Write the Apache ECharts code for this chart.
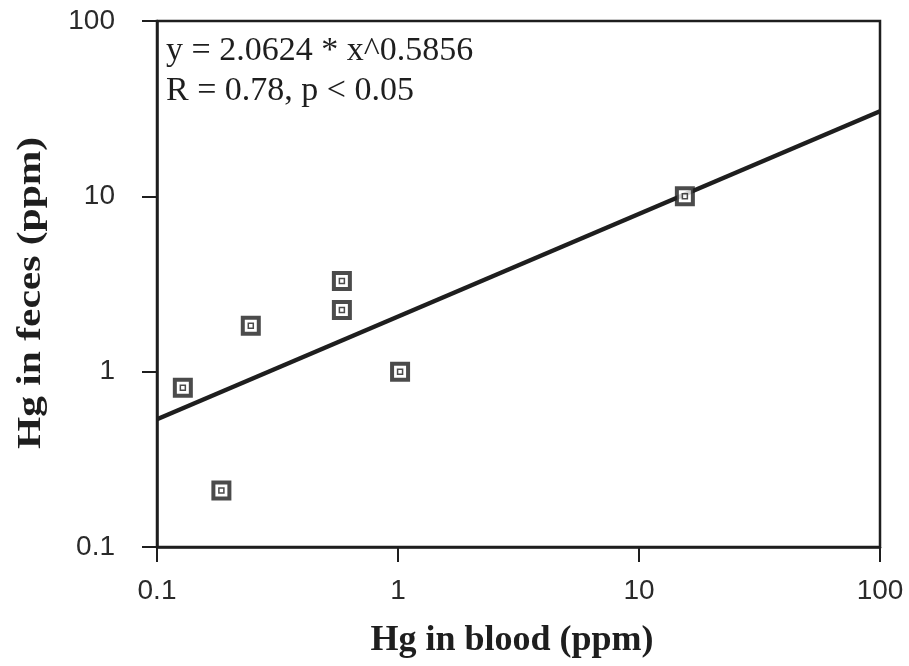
<!DOCTYPE html>
<html>
<head>
<meta charset="utf-8">
<script src="https://cdn.jsdelivr.net/npm/echarts@6/dist/echarts.min.js"></script>
<style>
  html, body { margin: 0; padding: 0; background: #fff; }
  #chart { width: 909px; height: 666px; }
</style>
</head>
<body>
<div id="chart"></div>
<script>
// Mercury in blood vs. mercury in feces, log-log scatter with power-law fit
const bloodHg = [0.128, 0.185, 0.245, 0.585, 0.585, 1.02, 15.5];
const fecesHg = [0.81, 0.21, 1.83, 3.29, 2.25, 1.0, 10.0];

// Power fit y = a * x^b, as printed on the chart
const fitA = 2.0624;
const fitB = 0.5856;
const fitRange = [0.1, 100];

const xTicks = [0.1, 1, 10, 100];
const yTicks = [0.1, 1, 10, 100];

const equationText = 'y = 2.0624 * x^0.5856';
const statsText = 'R = 0.78, p < 0.05';
const xTitle = 'Hg in blood (ppm)';
const yTitle = 'Hg in feces (ppm)';

const points = bloodHg.map((x, i) => [x, fecesHg[i]]);
const fitLine = fitRange.map(x => [x, fitA * Math.pow(x, fitB)]);

const ink = '#1e1e1e';
const serif = '"Liberation Serif", "DejaVu Serif", serif';
const sans = '"Liberation Sans", Arial, sans-serif';

const fmt = v => String(Number(v.toPrecision(3)));

const tickStyle = { show: true, inside: false, length: 15, lineStyle: { color: ink, width: 2 } };

const chart = echarts.init(document.getElementById('chart'), null, { renderer: 'canvas' });
chart.setOption({
  animation: false,
  backgroundColor: '#fff',
  grid: {
    left: 157, right: 29, top: 21, bottom: 119,
    show: true, borderColor: ink, borderWidth: 2.5, backgroundColor: 'transparent'
  },
  xAxis: {
    type: 'log', logBase: 10, min: xTicks[0], max: xTicks[xTicks.length - 1],
    axisLine: { show: true, lineStyle: { color: ink, width: 2.5 } },
    axisTick: tickStyle,
    minorTick: { show: false },
    splitLine: { show: false },
    axisLabel: { fontFamily: sans, fontSize: 28, color: '#2a2a2a', margin: 30, formatter: fmt }
  },
  yAxis: {
    type: 'log', logBase: 10, min: yTicks[0], max: yTicks[yTicks.length - 1],
    axisLine: { show: true, lineStyle: { color: ink, width: 2.5 } },
    axisTick: tickStyle,
    minorTick: { show: false },
    splitLine: { show: false },
    axisLabel: { fontFamily: sans, fontSize: 28, color: '#2a2a2a', margin: 42, formatter: fmt }
  },
  graphic: [
    {
      type: 'text', x: 166, y: 51,
      style: { text: equationText, font: '34px ' + serif, fill: ink, verticalAlign: 'middle' }
    },
    {
      type: 'text', x: 166, y: 91,
      style: { text: statsText, font: '34px ' + serif, fill: ink, verticalAlign: 'middle' }
    },
    {
      type: 'text', x: 512, y: 641,
      style: { text: xTitle, font: 'bold 36px ' + serif, fill: ink, align: 'center', verticalAlign: 'middle' }
    },
    {
      type: 'text', x: 31, y: 293, rotation: Math.PI / 2, scaleX: 1.22,
      style: { text: yTitle, font: 'bold 34px ' + serif, fill: ink, align: 'center', verticalAlign: 'middle' }
    }
  ],
  series: [
    {
      name: 'fit', type: 'line', data: fitLine, symbol: 'none',
      lineStyle: { color: ink, width: 4.5 }, z: 2
    },
    {
      name: 'samples', type: 'scatter', data: points, symbol: 'rect', symbolSize: 16,
      itemStyle: { color: '#fff', borderColor: ink, borderWidth: 4 }, z: 3
    },
    {
      name: 'samples-core', type: 'scatter', data: points, symbol: 'rect', symbolSize: 5,
      itemStyle: { color: '#fff', borderColor: ink, borderWidth: 1.5 }, z: 4, silent: true
    }
  ]
});
</script>
</body>
</html>
